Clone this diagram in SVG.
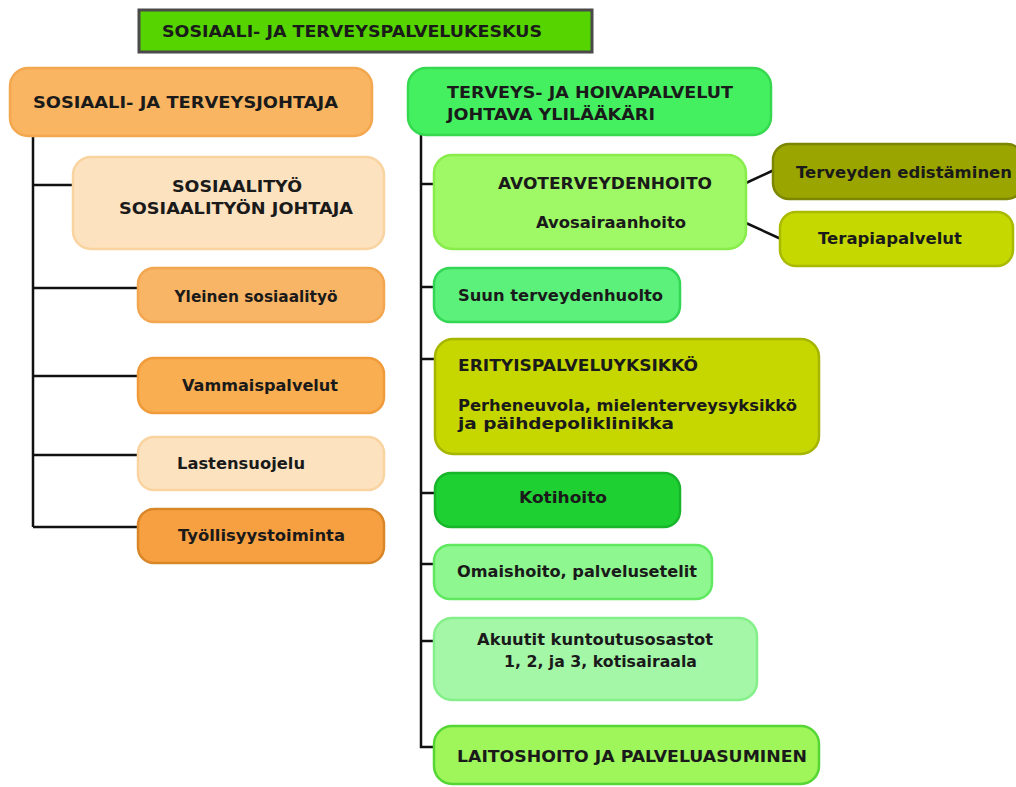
<svg xmlns="http://www.w3.org/2000/svg" width="1016" height="787" viewBox="0 0 1016 787">
<style>
text{font-family:"DejaVu Sans","Liberation Sans",sans-serif;font-weight:bold;fill:#1a1a1a;font-size:15.5px}
.t{font-size:16.5px}
.box{stroke-width:2.5}
.c{stroke:#111;stroke-width:2.5;fill:none}
</style>
<rect width="1016" height="787" fill="#ffffff"/>
<g id="connectors">
<path class="c" d="M33 137V527M33 185H73M33 288H138M33 376H138M33 455H138M33 527H138"/>
<path class="c" d="M421 135V747H435M421 184H435M421 287H435M421 359H435M421 493H435M421 564H435M421 641H435"/>
<path class="c" d="M746 183L774 170M746 223L781 239"/>
</g>
<g id="title">
<rect x="139" y="10" width="453" height="42" fill="#55d400" stroke="#4a4a4a" stroke-width="3"/>
<text x="162" y="37" class="t" textLength="380" lengthAdjust="spacingAndGlyphs">SOSIAALI- JA TERVEYSPALVELUKESKUS</text>
</g>
<g id="n-sosjohtaja">
<rect class="box" x="10" y="68" width="362" height="68" rx="18" fill="#f9b561" stroke="#f3a850"/>
<text x="33" y="108" class="t" textLength="305" lengthAdjust="spacingAndGlyphs">SOSIAALI- JA TERVEYSJOHTAJA</text>
</g>
<g id="n-sosiaalityo">
<rect class="box" x="73" y="157" width="311" height="92" rx="18" fill="#fde2bf" stroke="#f9d3a0"/>
<text x="237" y="192" text-anchor="middle" class="t" textLength="130" lengthAdjust="spacingAndGlyphs">SOSIAALITYÖ</text>
<text x="236" y="214" text-anchor="middle" class="t" textLength="234" lengthAdjust="spacingAndGlyphs">SOSIAALITYÖN JOHTAJA</text>
</g>
<g id="n-yleinen">
<rect class="box" x="138" y="268" width="246" height="54" rx="16" fill="#f9b566" stroke="#f3a650"/>
<text x="256" y="302" text-anchor="middle" textLength="163" lengthAdjust="spacingAndGlyphs">Yleinen sosiaalityö</text>
</g>
<g id="n-vammais">
<rect class="box" x="138" y="358" width="246" height="55" rx="16" fill="#f9ae52" stroke="#f19a3a"/>
<text x="260" y="391" text-anchor="middle" textLength="156" lengthAdjust="spacingAndGlyphs">Vammaispalvelut</text>
</g>
<g id="n-lasten">
<rect class="box" x="138" y="437" width="246" height="53" rx="16" fill="#fde2bf" stroke="#f9d3a0"/>
<text x="177" y="469" textLength="128" lengthAdjust="spacingAndGlyphs">Lastensuojelu</text>
</g>
<g id="n-tyollisyys">
<rect class="box" x="138" y="509" width="246" height="54" rx="16" fill="#f7a042" stroke="#d98628"/>
<text x="178" y="541" textLength="167" lengthAdjust="spacingAndGlyphs">Työllisyystoiminta</text>
</g>
<g id="n-terveysjohtaja">
<rect class="box" x="408" y="68" width="363" height="67" rx="18" fill="#44f060" stroke="#36d850"/>
<text x="447" y="98" class="t" textLength="286" lengthAdjust="spacingAndGlyphs">TERVEYS- JA HOIVAPALVELUT</text>
<text x="447" y="120" class="t" textLength="208" lengthAdjust="spacingAndGlyphs">JOHTAVA YLILÄÄKÄRI</text>
</g>
<g id="n-avo">
<rect class="box" x="434" y="155" width="312" height="94" rx="18" fill="#9ff865" stroke="#88ec4a"/>
<text x="498" y="189" textLength="214" lengthAdjust="spacingAndGlyphs">AVOTERVEYDENHOITO</text>
<text x="536" y="228" textLength="150" lengthAdjust="spacingAndGlyphs">Avosairaanhoito</text>
</g>
<g id="n-edistaminen">
<rect class="box" x="773" y="144" width="250" height="55" rx="16" fill="#9aa500" stroke="#7c8600"/>
<text x="796" y="178" textLength="216" lengthAdjust="spacingAndGlyphs">Terveyden edistäminen</text>
</g>
<g id="n-terapia">
<rect class="box" x="780" y="212" width="233" height="54" rx="16" fill="#c5d800" stroke="#a9ba00"/>
<text x="818" y="244" textLength="144" lengthAdjust="spacingAndGlyphs">Terapiapalvelut</text>
</g>
<g id="n-suun">
<rect class="box" x="434" y="268" width="246" height="54" rx="16" fill="#5cf17b" stroke="#33d655"/>
<text x="458" y="301" textLength="205" lengthAdjust="spacingAndGlyphs">Suun terveydenhuolto</text>
</g>
<g id="n-erityis">
<rect class="box" x="435" y="339" width="384" height="115" rx="18" fill="#c6d700" stroke="#a5b500"/>
<text x="458" y="371" textLength="240" lengthAdjust="spacingAndGlyphs">ERITYISPALVELUYKSIKKÖ</text>
<text x="458" y="411" textLength="339" lengthAdjust="spacingAndGlyphs">Perheneuvola, mielenterveysyksikkö</text>
<text x="458" y="429" textLength="216" lengthAdjust="spacingAndGlyphs">ja päihdepoliklinikka</text>
</g>
<g id="n-kotihoito">
<rect class="box" x="435" y="473" width="245" height="54" rx="16" fill="#1fd033" stroke="#18b52a"/>
<text x="563" y="503" text-anchor="middle" textLength="88" lengthAdjust="spacingAndGlyphs">Kotihoito</text>
</g>
<g id="n-omaishoito">
<rect class="box" x="434" y="545" width="278" height="54" rx="16" fill="#8ef78f" stroke="#5fe860"/>
<text x="457" y="577" textLength="240" lengthAdjust="spacingAndGlyphs">Omaishoito, palvelusetelit</text>
</g>
<g id="n-akuutit">
<rect class="box" x="434" y="618" width="323" height="82" rx="18" fill="#a5f7a8" stroke="#85ef8a"/>
<text x="477" y="645" textLength="236" lengthAdjust="spacingAndGlyphs">Akuutit kuntoutusosastot</text>
<text x="504" y="667" textLength="193" lengthAdjust="spacingAndGlyphs">1, 2, ja 3, kotisairaala</text>
</g>
<g id="n-laitoshoito">
<rect class="box" x="434" y="726" width="385" height="58" rx="18" fill="#9ef65b" stroke="#56d635"/>
<text x="457" y="762" textLength="350" lengthAdjust="spacingAndGlyphs">LAITOSHOITO JA PALVELUASUMINEN</text>
</g>
</svg>
